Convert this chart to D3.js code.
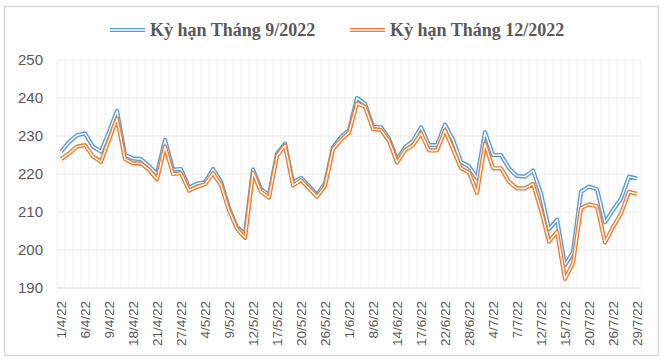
<!DOCTYPE html>
<html>
<head>
<meta charset="utf-8">
<script src="https://cdn.jsdelivr.net/npm/d3@7"></script>
<style>
  body { margin: 0; background: #fff; }
</style>
</head>
<body>
<div id="chart"></div>
<script>
const dates = [
    "1/4/22", "4/4/22", "5/4/22", "6/4/22", "7/4/22", "8/4/22", "9/4/22", "12/4/22", "14/4/22",
    "18/4/22", "19/4/22", "20/4/22", "21/4/22", "22/4/22", "26/4/22", "27/4/22", "28/4/22", "29/4/22",
    "4/5/22", "5/5/22", "6/5/22", "9/5/22", "10/5/22", "11/5/22", "12/5/22", "13/5/22", "16/5/22",
    "17/5/22", "18/5/22", "19/5/22", "20/5/22", "24/5/22", "25/5/22", "26/5/22", "27/5/22", "31/5/22",
    "1/6/22", "6/6/22", "7/6/22", "8/6/22", "9/6/22", "13/6/22", "14/6/22", "15/6/22", "16/6/22",
    "17/6/22", "20/6/22", "21/6/22", "22/6/22", "23/6/22", "27/6/22", "28/6/22", "29/6/22", "1/7/22",
    "4/7/22", "5/7/22", "6/7/22", "7/7/22", "8/7/22", "11/7/22", "12/7/22", "13/7/22", "14/7/22",
    "15/7/22", "18/7/22", "19/7/22", "20/7/22", "21/7/22", "22/7/22", "26/7/22", "27/7/22", "28/7/22",
    "29/7/22"
];

// Kỳ hạn Tháng 9/2022
const sep22 = [
    225.9, 228.4, 230.2, 230.7, 227.2, 225.9, 231.1, 236.6, 225.0,
    224.1, 223.9, 222.1, 220.0, 229.0, 221.1, 221.3, 216.4, 217.5,
    217.8, 221.3, 218.0, 211.0, 206.0, 204.2, 221.2, 216.0, 214.5,
    225.3, 228.0, 217.8, 219.0, 216.8, 214.5, 217.5, 227.0, 229.7,
    231.5, 240.0, 238.5, 232.5, 232.3, 229.3, 223.8, 227.0, 228.7,
    232.3, 227.6, 227.6, 233.0, 229.0, 223.2, 222.0, 218.9, 231.0,
    225.0, 225.0, 221.5, 219.5, 219.3, 220.9, 214.9, 205.5, 208.0,
    196.0, 199.5, 215.3, 216.7, 216.0, 207.3, 210.5, 213.5, 219.3,
    218.8
];

// Kỳ hạn Tháng 12/2022
const dec22 = [
    223.9, 225.4, 227.2, 227.6, 224.6, 223.2, 229.0, 234.6, 223.9,
    222.8, 222.8, 221.1, 218.6, 227.2, 220.0, 220.2, 215.6, 216.6,
    217.3, 220.2, 217.1, 210.4, 205.6, 203.2, 220.4, 215.3, 213.8,
    224.8, 227.5, 217.0, 218.4, 216.2, 214.0, 216.8, 226.5, 229.0,
    230.9, 238.6, 237.7, 231.8, 231.6, 228.7, 223.0, 226.3, 227.6,
    230.7, 226.2, 226.2, 231.5, 226.5, 221.5, 220.4, 215.0, 228.0,
    221.5, 221.5, 218.0, 216.2, 216.2, 217.4, 210.5, 202.2, 204.8,
    192.4, 196.5, 211.0, 212.0, 211.5, 202.0, 206.0, 209.6, 215.3,
    214.8
];

const seriesNames = ["Kỳ hạn Tháng 9/2022", "Kỳ hạn Tháng 12/2022"];
const seriesColors = ["#5b9bd5", "#ed7d31"];
const yTicks = [190, 200, 210, 220, 230, 240, 250];

const width = 666, height = 363;
const plot = { left: 57, right: 641, top: 60, bottom: 288 };

const svg = d3.select("#chart").append("svg")
    .attr("width", width)
    .attr("height", height);

// chart frame
svg.append("rect")
    .attr("x", 4.5).attr("y", 6.5)
    .attr("width", 654).attr("height", 349)
    .attr("fill", "#fff")
    .attr("stroke", "#d9d9d9")
    .attr("stroke-width", 1.5);

const x = d3.scaleBand()
    .domain(dates)
    .range([plot.left, plot.right]);

const y = d3.scaleLinear()
    .domain([190, 250])
    .range([plot.bottom, plot.top]);

const cx = d => x(d) + x.bandwidth() / 2;

// vertical gridlines at band edges
const edges = dates.map(d => x(d)).concat([plot.right]);
svg.append("g").selectAll("line")
    .data(edges)
    .enter().append("line")
    .attr("x1", d => d).attr("x2", d => d)
    .attr("y1", plot.top).attr("y2", plot.bottom)
    .attr("stroke", "#f0f0f0")
    .attr("stroke-width", 1);

// horizontal gridlines
svg.append("g").selectAll("line")
    .data(yTicks.slice(1))
    .enter().append("line")
    .attr("x1", plot.left).attr("x2", plot.right)
    .attr("y1", d => y(d)).attr("y2", d => y(d))
    .attr("stroke", "#ececec")
    .attr("stroke-width", 1);

// bottom axis line
svg.append("line")
    .attr("x1", plot.left).attr("x2", plot.right)
    .attr("y1", y(190)).attr("y2", y(190))
    .attr("stroke", "#d9d9d9")
    .attr("stroke-width", 1);

// y labels
const yAxis = d3.axisLeft(y).tickValues(yTicks).tickSize(0).tickPadding(14);
const gy = svg.append("g")
    .attr("transform", `translate(${plot.left},0)`)
    .call(yAxis);
gy.select(".domain").remove();
gy.selectAll("text")
    .attr("fill", "#595959")
    .style("font-family", "'Liberation Sans', Arial, sans-serif")
    .style("font-size", "15px");

// x labels, every third date
const xAxis = d3.axisBottom(x)
    .tickValues(dates.filter((d, i) => i % 3 === 0))
    .tickSize(0);
const gx = svg.append("g")
    .attr("transform", `translate(0,${plot.bottom})`)
    .call(xAxis);
gx.select(".domain").remove();
gx.selectAll("text")
    .attr("fill", "#595959")
    .attr("transform", "rotate(-90)")
    .attr("text-anchor", "end")
    .attr("x", -13)
    .attr("y", 0)
    .attr("dy", "0.35em")
    .style("font-family", "'Liberation Sans', Arial, sans-serif")
    .style("font-size", "13.5px");

// double lines
const line = d3.line()
    .x((d, i) => cx(dates[i]))
    .y(d => y(d));

[sep22, dec22].forEach((values, k) => {
    svg.append("path")
        .datum(values)
        .attr("d", line)
        .attr("fill", "none")
        .attr("stroke", seriesColors[k])
        .attr("stroke-width", 4.2)
        .attr("stroke-linejoin", "round");
    svg.append("path")
        .datum(values)
        .attr("d", line)
        .attr("fill", "none")
        .attr("stroke", "#fff")
        .attr("stroke-width", 1.4)
        .attr("stroke-linejoin", "round");
});

// legend
const legendX = [110, 350];
const legend = svg.append("g");
seriesNames.forEach((name, k) => {
    const g = legend.append("g").attr("transform", `translate(${legendX[k]},30)`);
    g.append("line")
        .attr("x1", 0).attr("x2", 35)
        .attr("stroke", seriesColors[k])
        .attr("stroke-width", 4.2);
    g.append("line")
        .attr("x1", 0).attr("x2", 35)
        .attr("stroke", "#fff")
        .attr("stroke-width", 1.4);
    g.append("text")
        .attr("x", 40)
        .attr("dy", "0.35em")
        .attr("fill", "#595959")
        .style("font-family", "'Liberation Serif', 'Times New Roman', serif")
        .style("font-weight", "bold")
        .style("font-size", "18px")
        .text(name);
});
</script>
</body>
</html>
